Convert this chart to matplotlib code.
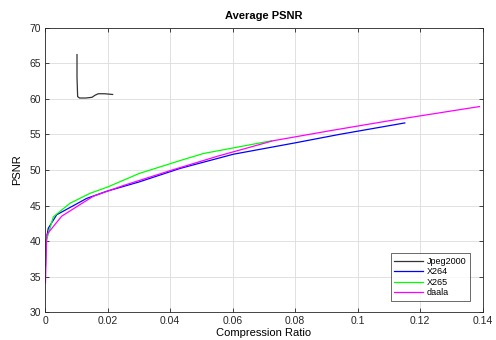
import matplotlib
matplotlib.use("Agg")
import matplotlib.pyplot as plt

plt.rcParams['font.family'] = ['Liberation Sans', 'DejaVu Sans']

jpeg_x = [0.0102, 0.0102, 0.0104, 0.0110, 0.0130, 0.0150, 0.0160, 0.0170, 0.0190, 0.0216]
jpeg_y = [66.2, 63.0, 60.3, 60.1, 60.1, 60.2, 60.5, 60.7, 60.7, 60.6]

x264_x = [0.0001, 0.0003, 0.0010, 0.0037, 0.0133, 0.0197, 0.0300, 0.0431, 0.0602, 0.0800, 0.0943, 0.1151]
x264_y = [36.5, 40.0, 41.8, 43.7, 46.0, 47.0, 48.3, 50.2, 52.2, 53.8, 55.0, 56.6]

x265_x = [0.0001, 0.0005, 0.0026, 0.0079, 0.0143, 0.0200, 0.0301, 0.0431, 0.0506, 0.0725]
x265_y = [37.0, 40.2, 43.4, 45.3, 46.7, 47.6, 49.5, 51.3, 52.3, 54.1]

daala_x = [0.0001, 0.0005, 0.0053, 0.0154, 0.0250, 0.0400, 0.0550, 0.0730, 0.0911, 0.1100, 0.1390]
daala_y = [34.1, 40.9, 43.5, 46.3, 47.8, 49.9, 51.9, 54.1, 55.5, 56.9, 58.9]

fig = plt.figure(figsize=(4.96, 3.40), dpi=100)
ax = fig.add_axes([0.091, 0.0815, 0.882, 0.8375])

ax.plot(jpeg_x, jpeg_y, color='#333333', lw=0.9, label='Jpeg2000')
ax.plot(x264_x, x264_y, color='#0000ff', lw=0.9, label='X264')
ax.plot(x265_x, x265_y, color='#00ff00', lw=0.9, label='X265')
ax.plot(daala_x, daala_y, color='#ff00ff', lw=0.9, label='daala')

ax.set_xlim(0, 0.14)
ax.set_ylim(30, 70)
ax.set_xticks([0, 0.02, 0.04, 0.06, 0.08, 0.1, 0.12, 0.14])
ax.set_xticklabels(['0', '0.02', '0.04', '0.06', '0.08', '0.1', '0.12', '0.14'])
ax.set_yticks(range(30, 71, 5))
ax.grid(True, color='#dcdcdc', lw=0.6)
ax.set_axisbelow(True)
ax.tick_params(direction='in', top=True, right=True, labelsize=7.5, colors='#262626',
               length=3, width=0.6, pad=3)
for s in ax.spines.values():
    s.set_color('#262626')
    s.set_linewidth(0.6)
ax.set_title('Average PSNR', fontsize=8, fontweight='bold', pad=6)
ax.set_xlabel('Compression Ratio', fontsize=8, labelpad=1)
ax.set_ylabel('PSNR', fontsize=8, labelpad=5)

leg = ax.legend(loc='lower right', fontsize=6.5, frameon=True, fancybox=False,
                edgecolor='#262626', handlelength=3.2, borderpad=0.4,
                labelspacing=0.15, handletextpad=0.4, bbox_to_anchor=(0.982, 0.025))
leg.get_frame().set_linewidth(0.6)

fig.savefig('out.png', dpi=100)
